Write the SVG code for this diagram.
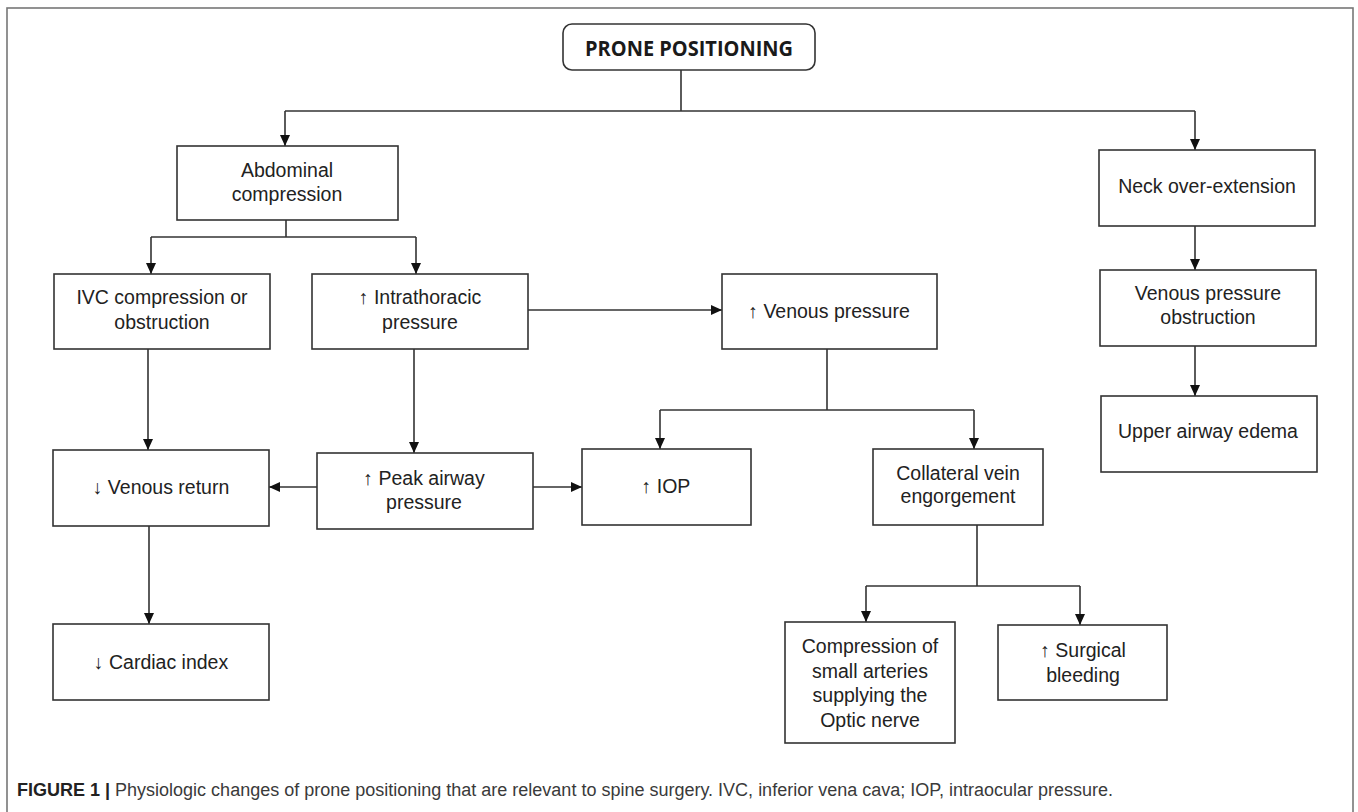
<svg xmlns="http://www.w3.org/2000/svg" width="1358" height="812" viewBox="0 0 1358 812">
<style>
.box{fill:#fff;stroke:#333;stroke-width:1.6}
.t{font-family:"Liberation Sans",Arial,sans-serif;font-size:19.5px;fill:#222;text-anchor:middle}
.title{font-family:"Open Sans","Noto Sans",sans-serif;font-weight:700;font-size:21px;fill:#1a1a1a;text-anchor:middle}
.ln{fill:none;stroke:#333;stroke-width:1.6}
.cap{font-family:"Liberation Sans",Arial,sans-serif;font-size:18px;fill:#3a3a3a}
</style>
<defs>
<marker id="ah" markerUnits="userSpaceOnUse" markerWidth="12" markerHeight="10" refX="11" refY="5" orient="auto">
<path d="M0,0 L11,5 L0,10 z" fill="#111"/>
</marker>
</defs>
<rect x="7" y="8" width="1346" height="830" fill="none" stroke="#777" stroke-width="1.6"/>

<g id="connectors">
<path class="ln" d="M681,70 V111"/>
<path class="ln" d="M285,111 H1195"/>
<path class="ln" d="M285,111 V146" marker-end="url(#ah)"/>
<path class="ln" d="M1195,111 V150" marker-end="url(#ah)"/>
<path class="ln" d="M286,220 V237"/>
<path class="ln" d="M151,237 H416"/>
<path class="ln" d="M151,237 V274" marker-end="url(#ah)"/>
<path class="ln" d="M416,237 V274" marker-end="url(#ah)"/>
<path class="ln" d="M528,310 H722" marker-end="url(#ah)"/>
<path class="ln" d="M148,349 V450" marker-end="url(#ah)"/>
<path class="ln" d="M414,349 V453" marker-end="url(#ah)"/>
<path class="ln" d="M317,487 H269" marker-end="url(#ah)"/>
<path class="ln" d="M533,487 H582" marker-end="url(#ah)"/>
<path class="ln" d="M827,349 V410"/>
<path class="ln" d="M660,410 H974"/>
<path class="ln" d="M660,410 V449" marker-end="url(#ah)"/>
<path class="ln" d="M974,410 V449" marker-end="url(#ah)"/>
<path class="ln" d="M149,526 V624" marker-end="url(#ah)"/>
<path class="ln" d="M977,525 V586"/>
<path class="ln" d="M866,586 H1080"/>
<path class="ln" d="M866,586 V622" marker-end="url(#ah)"/>
<path class="ln" d="M1080,586 V625" marker-end="url(#ah)"/>
<path class="ln" d="M1195,226 V270" marker-end="url(#ah)"/>
<path class="ln" d="M1195,346 V396" marker-end="url(#ah)"/>
</g>

<g id="prone">
<rect class="box" x="563" y="24" width="252" height="46" rx="9"/>
<text class="title" x="689" y="56" textLength="208" lengthAdjust="spacingAndGlyphs">PRONE POSITIONING</text>
</g>
<g id="abdominal">
<rect class="box" x="177" y="146" width="221" height="74"/>
<text class="t" x="287" y="177">Abdominal</text>
<text class="t" x="287" y="201">compression</text>
</g>
<g id="neck">
<rect class="box" x="1099" y="150" width="216" height="76"/>
<text class="t" x="1207" y="193">Neck over-extension</text>
</g>
<g id="ivc">
<rect class="box" x="54" y="274" width="216" height="75"/>
<text class="t" x="162" y="304">IVC compression or</text>
<text class="t" x="162" y="329">obstruction</text>
</g>
<g id="intrathoracic">
<rect class="box" x="312" y="274" width="216" height="75"/>
<text class="t" x="420" y="304">↑ Intrathoracic</text>
<text class="t" x="420" y="329">pressure</text>
</g>
<g id="venous-pressure">
<rect class="box" x="722" y="274" width="215" height="75"/>
<text class="t" x="829" y="318">↑ Venous pressure</text>
</g>
<g id="venous-obstruction">
<rect class="box" x="1100" y="270" width="216" height="76"/>
<text class="t" x="1208" y="300">Venous pressure</text>
<text class="t" x="1208" y="324">obstruction</text>
</g>
<g id="upper-airway">
<rect class="box" x="1101" y="396" width="216" height="76"/>
<text class="t" x="1208" y="438">Upper airway edema</text>
</g>
<g id="venous-return">
<rect class="box" x="53" y="450" width="216" height="76"/>
<text class="t" x="161" y="494">↓ Venous return</text>
</g>
<g id="peak-airway">
<rect class="box" x="317" y="453" width="216" height="76"/>
<text class="t" x="424" y="485">↑ Peak airway</text>
<text class="t" x="424" y="509">pressure</text>
</g>
<g id="iop">
<rect class="box" x="582" y="449" width="169" height="76"/>
<text class="t" x="666" y="493">↑ IOP</text>
</g>
<g id="collateral">
<rect class="box" x="873" y="449" width="170" height="76"/>
<text class="t" x="958" y="480">Collateral vein</text>
<text class="t" x="958" y="503">engorgement</text>
</g>
<g id="cardiac">
<rect class="box" x="53" y="624" width="216" height="76"/>
<text class="t" x="161" y="669">↓ Cardiac index</text>
</g>
<g id="compression-arteries">
<rect class="box" x="785" y="622" width="170" height="121"/>
<text class="t" x="870" y="653">Compression of</text>
<text class="t" x="870" y="678">small arteries</text>
<text class="t" x="870" y="702">supplying the</text>
<text class="t" x="870" y="727">Optic nerve</text>
</g>
<g id="surgical">
<rect class="box" x="998" y="625" width="169" height="75"/>
<text class="t" x="1083" y="657">↑ Surgical</text>
<text class="t" x="1083" y="682">bleeding</text>
</g>

<text class="cap" x="17" y="796" textLength="1096" lengthAdjust="spacingAndGlyphs"><tspan font-weight="bold" fill="#222">FIGURE 1 |</tspan> Physiologic changes of prone positioning that are relevant to spine surgery. IVC, inferior vena cava; IOP, intraocular pressure.</text>
</svg>
